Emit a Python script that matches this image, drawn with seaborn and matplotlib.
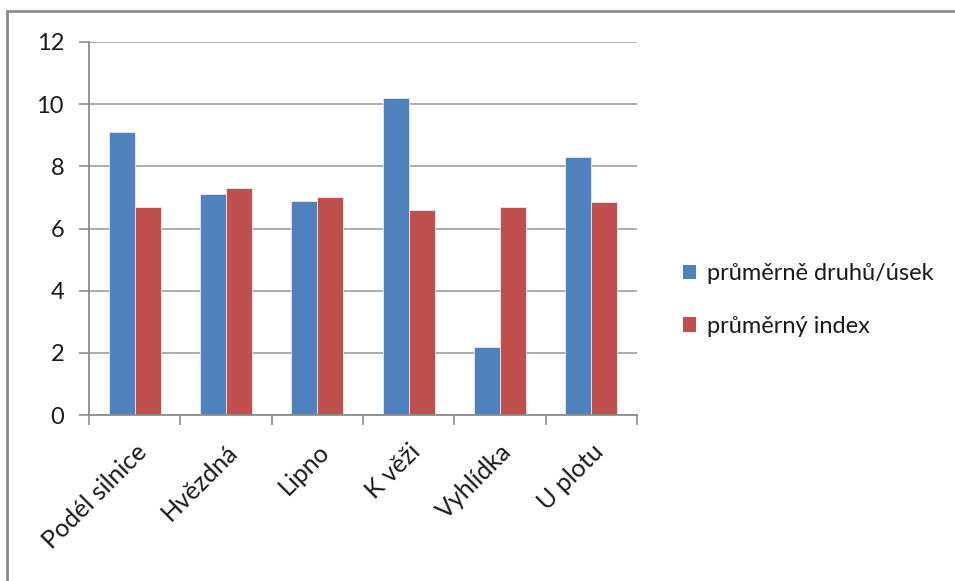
import matplotlib
matplotlib.use("Agg")
import matplotlib.pyplot as plt
import seaborn as sns
import pandas as pd
from matplotlib.lines import Line2D
from matplotlib.patches import Patch

categories = ["Podél silnice", "Hvězdná", "Lipno", "K věži", "Vyhlídka", "U plotu"]
series_names = ["průměrně druhů/úsek", "průměrný index"]
druhu = [9.1, 7.1, 6.9, 10.2, 2.2, 8.3]
index = [6.7, 7.3, 7.0, 6.6, 6.7, 6.85]
yticks = [0, 2, 4, 6, 8, 10, 12]
colors = ["#4F81BD", "#C0504D"]

df = pd.DataFrame({
    "kategorie": categories * 2,
    "serie": [series_names[0]] * len(categories) + [series_names[1]] * len(categories),
    "hodnota": druhu + index,
})

sns.set_style("white")
plt.rcParams["font.family"] = ["Lato", "DejaVu Sans"]

fig = plt.figure(figsize=(9.55, 5.81), dpi=100)
ax = fig.add_axes([89 / 955, 1 - 415 / 581, (637 - 89) / 955, (415 - 42) / 581])

sns.barplot(data=df, x="kategorie", y="hodnota", hue="serie", palette=colors,
            saturation=1, width=0.57, gap=0, ax=ax, legend=False,
            edgecolor="#e4eaf2", linewidth=0.6)

ax.set_ylim(0, 12)
ax.set_xlim(-0.5, len(categories) - 0.5)
ax.set_yticks(yticks)
ax.set_yticklabels([str(v) for v in yticks], fontsize=17, color="#1a1a1a")
ax.set_xticks(range(len(categories)))
ax.set_xticklabels(categories, rotation=45, ha="right", rotation_mode="anchor",
                   fontsize=18, color="#1a1a1a")
ax.set_xticks([i - 0.5 for i in range(len(categories) + 1)], minor=True)
ax.tick_params(axis="x", which="major", length=0, pad=18)
ax.tick_params(axis="x", which="minor", length=7, width=1.2, color="#8c8c8c", bottom=True)
ax.tick_params(axis="y", which="major", length=7, width=1.2, color="#8c8c8c", pad=11, left=True)
ax.set_xlabel("")
ax.set_ylabel("")

ax.yaxis.grid(True, color="#a6a6a6", linewidth=1.3)
ax.set_axisbelow(True)
for s in ["top", "right"]:
    ax.spines[s].set_visible(False)
for s in ["left", "bottom"]:
    ax.spines[s].set_color("#8c8c8c")
    ax.spines[s].set_linewidth(1.3)

handles = [Patch(facecolor=c, edgecolor="none") for c in colors]
fig.legend(handles, series_names, loc="center left", bbox_to_anchor=(662 / 955, 1 - 300 / 581),
           frameon=False, fontsize=17, handlelength=0.55, handleheight=0.55, handletextpad=0.45,
           labelspacing=1.35, labelcolor="#1a1a1a")

fig.add_artist(Line2D([7 / 955, 7 / 955], [0, 1 - 11 / 581], color="#8c8c8c", linewidth=2,
                      transform=fig.transFigure))
fig.add_artist(Line2D([7 / 955, 1], [1 - 11 / 581, 1 - 11 / 581], color="#8c8c8c", linewidth=2,
                      transform=fig.transFigure))

fig.savefig("out.png", dpi=100)
